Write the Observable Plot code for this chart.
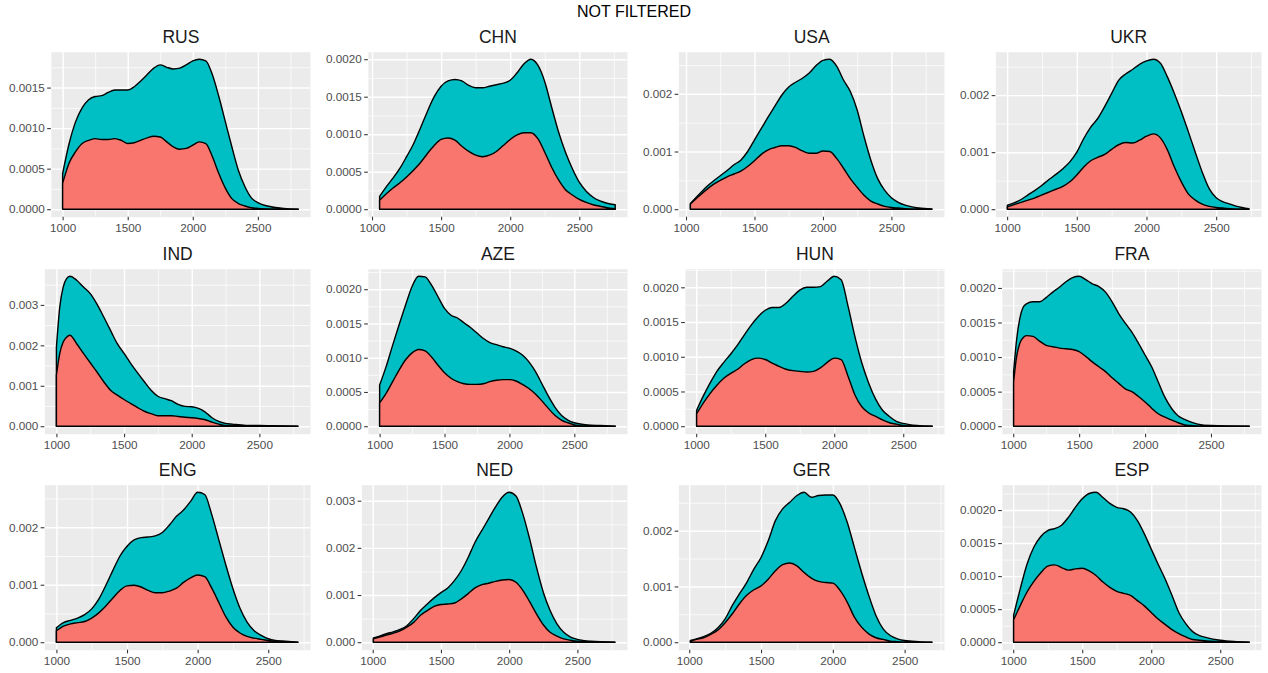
<!DOCTYPE html>
<html>
<head>
<meta charset="utf-8">
<script src="https://cdn.jsdelivr.net/npm/d3@7"></script>
<script src="https://cdn.jsdelivr.net/npm/@observablehq/plot@0.6"></script>
<style>
  html, body { margin: 0; padding: 0; background: #ffffff; }
  #wrap { position: relative; width: 1268px; height: 673px; overflow: hidden; background: #ffffff; }
  #wrap svg { position: absolute; }
</style>
</head>
<body>
<div id="wrap"></div>
<script>
// ---------------- data ----------------
const mainTitle = "NOT FILTERED";
const countries = ["RUS","CHN","USA","UKR","IND","AZE","HUN","FRA","ENG","NED","GER","ESP"];
const yTickSteps = [0.0005,0.0005,0.001,0.001,0.001,0.0005,0.0005,0.0005,0.001,0.001,0.001,0.0005];
const xTicks = [1000,1500,2000,2500];
const seriesNames = ["bottom (red)", "top (teal)"];

// each row: [rating, red density, stacked total (red + teal)]
const RUS = [[1000,.00032,.00044],[1050,.00057,.00081],[1100,.00071,.00108],[1150,.00081,.00125],[1200,.00085,.00135],[1250,.00087,.00139],[1300,.00086,.0014],[1350,.00086,.00144],[1400,.00087,.00147],[1450,.00085,.00147],[1500,.00081,.00147],[1550,.00082,.00151],[1600,.00085,.00158],[1650,.00088,.00166],[1700,.0009,.00174],[1750,.00089,.00178],[1800,.00083,.00175],[1850,.00077,.00173],[1900,.00074,.00174],[1950,.00075,.00178],[2000,.00079,.00183],[2050,.00083,.00185],[2100,.00081,.00183],[2150,.00065,.00166],[2200,.00044,.00139],[2250,.00026,.00108],[2300,.00013,.00077],[2350,.00007,.00048],[2400,.00004,.00028],[2450,.00002,.00014],[2500,.00001,.00008],[2600,0,.00003],[2700,0,.00001],[2810,0,0]];
const CHN = [[1055,.00012,.00017],[1100,.0002,.00029],[1150,.00028,.00041],[1200,.00035,.00054],[1250,.00043,.0007],[1300,.00052,.00087],[1350,.00062,.00108],[1400,.00074,.0013],[1450,.00085,.0015],[1500,.00093,.00164],[1550,.00095,.00171],[1600,.00092,.00173],[1650,.00084,.00171],[1700,.00077,.00165],[1750,.00072,.00162],[1800,.0007,.00162],[1850,.00072,.00164],[1900,.00077,.00166],[1950,.00085,.00168],[2000,.00093,.00172],[2050,.00099,.00182],[2100,.00102,.00194],[2150,.00102,.002],[2200,.00094,.00192],[2250,.00076,.0017],[2300,.00056,.00136],[2350,.00039,.00103],[2400,.00026,.00076],[2450,.00019,.00054],[2500,.00013,.00036],[2550,.00009,.00024],[2600,.00006,.00016],[2650,.00004,.00011],[2700,.00002,.00008],[2760,.000005,.00006]];
const USA = [[1032,.00009,.0001],[1100,.00024,.00027],[1150,.00034,.00039],[1200,.00043,.00049],[1250,.0005,.00058],[1300,.00056,.00067],[1350,.00061,.00077],[1400,.00066,.00085],[1450,.00074,.001],[1500,.00084,.0012],[1550,.00095,.0014],[1600,.00103,.0016],[1650,.00107,.00179],[1700,.0011,.00198],[1750,.0011,.00212],[1800,.00107,.0022],[1850,.00101,.00227],[1900,.00097,.00236],[1950,.00097,.00249],[2000,.00101,.00258],[2050,.001,.0026],[2100,.00088,.00248],[2150,.00071,.00224],[2200,.00053,.00204],[2250,.00038,.00172],[2300,.00024,.00126],[2350,.00014,.00085],[2400,.00009,.00053],[2450,.00005,.00033],[2500,.00003,.0002],[2550,.00002,.00012],[2600,.00001,.00007],[2700,0,.00002],[2796,0,.000005]];
const UKR = [[1002,.00004,.00007],[1050,.00008,.00011],[1100,.00012,.00017],[1150,.00016,.00025],[1200,.0002,.00033],[1250,.00025,.00042],[1300,.0003,.00052],[1350,.00035,.00061],[1400,.0004,.00071],[1450,.00048,.00083],[1500,.0006,.001],[1550,.00074,.00124],[1600,.00085,.00144],[1650,.00091,.00159],[1700,.00096,.0018],[1750,.00105,.00203],[1800,.00113,.00226],[1850,.00117,.00237],[1900,.00116,.00245],[1950,.00121,.00254],[2000,.00128,.0026],[2050,.00132,.00263],[2100,.00125,.00256],[2150,.00104,.00232],[2200,.00074,.00203],[2250,.00048,.00171],[2300,.00027,.00136],[2350,.00016,.001],[2400,.00009,.00065],[2450,.00005,.00036],[2500,.00003,.0002],[2550,.00002,.00013],[2600,.00001,.00009],[2650,0,.00005],[2735,0,.00001]];
const IND = [[1000,.00126,.00195],[1025,.0018,.00295],[1050,.00208,.00344],[1075,.0022,.00365],[1100,.00225,.00371],[1150,.00204,.00361],[1200,.0018,.00344],[1250,.00157,.00328],[1300,.00134,.00302],[1350,.0011,.0027],[1400,.00089,.00237],[1450,.00077,.00204],[1500,.00066,.0018],[1550,.00056,.00155],[1600,.00046,.00132],[1650,.00037,.0011],[1700,.00031,.00089],[1750,.00026,.00074],[1800,.00026,.00068],[1850,.00026,.00063],[1900,.00024,.00054],[1950,.00022,.00049],[2000,.00021,.00048],[2050,.00019,.00044],[2100,.00016,.00035],[2150,.0001,.00021],[2200,.00005,.00012],[2250,.00002,.00007],[2300,.00002,.00005],[2400,.00001,.00002],[2500,0,.00002],[2600,0,.00001],[2785,0,0]];
const AZE = [[1000,.00034,.0006],[1050,.00048,.00087],[1100,.00065,.00118],[1150,.00082,.00148],[1200,.00097,.00177],[1250,.00107,.00204],[1300,.00112,.00219],[1350,.0011,.00218],[1400,.00101,.00206],[1450,.00089,.00189],[1500,.00078,.00172],[1550,.0007,.00162],[1600,.00065,.00158],[1650,.00062,.00151],[1700,.00061,.00144],[1750,.00061,.00136],[1800,.00062,.00128],[1850,.00065,.00122],[1900,.00067,.00119],[1950,.00068,.00116],[2000,.00068,.00114],[2050,.00066,.0011],[2100,.00061,.00104],[2150,.00055,.00094],[2200,.00047,.0008],[2250,.00037,.00062],[2300,.00026,.00044],[2350,.00016,.00028],[2400,.00009,.00016],[2450,.00005,.00009],[2500,.00002,.00005],[2600,0,.00002],[2700,0,.00001],[2815,0,0]];
const HUN = [[1003,.00018,.00023],[1050,.00033,.00043],[1100,.00047,.00062],[1150,.00059,.00079],[1200,.00069,.00092],[1250,.00076,.00104],[1300,.00082,.00117],[1350,.0009,.00132],[1400,.00096,.00146],[1450,.00098,.00158],[1500,.00096,.00167],[1550,.00091,.00171],[1600,.00086,.00171],[1650,.00082,.00177],[1700,.0008,.00187],[1750,.00079,.00196],[1800,.00078,.002],[1850,.00079,.002],[1900,.00084,.00201],[1950,.00092,.00209],[2000,.00098,.00216],[2050,.00096,.00211],[2100,.00072,.00173],[2150,.00045,.00129],[2200,.00028,.00091],[2250,.00019,.00062],[2300,.00014,.00039],[2350,.00009,.00023],[2400,.00005,.00014],[2450,.00003,.00007],[2500,.00001,.00004],[2600,0,.00001],[2710,0,0]];
const FRA = [[1003,.00064,.00079],[1025,.001,.00124],[1050,.0012,.00156],[1075,.00128,.00172],[1100,.00131,.00177],[1150,.0013,.0018],[1200,.00123,.0018],[1250,.00117,.00186],[1300,.00115,.00194],[1350,.00113,.00201],[1400,.00112,.00209],[1450,.00111,.00215],[1500,.00108,.00217],[1550,.00101,.00212],[1600,.00093,.00206],[1650,.00086,.00202],[1700,.00079,.00194],[1750,.0007,.0018],[1800,.00062,.00163],[1850,.00054,.00149],[1900,.0005,.00136],[1950,.00043,.0012],[2000,.00035,.00103],[2050,.00026,.00086],[2100,.00018,.00064],[2150,.00013,.00042],[2200,.00009,.00026],[2250,.00005,.00015],[2300,.00002,.0001],[2350,.00001,.00006],[2400,0,.00003],[2500,0,.00001],[2790,0,0]];
const ENG = [[1000,.0002,.00025],[1050,.00028,.00034],[1100,.00032,.00038],[1150,.00034,.00042],[1200,.00036,.00048],[1250,.00042,.00058],[1300,.00051,.00075],[1350,.00063,.00099],[1400,.00077,.00125],[1450,.0009,.0015],[1500,.00098,.00167],[1550,.00099,.00178],[1600,.00096,.00182],[1650,.0009,.00183],[1700,.00086,.00185],[1750,.00086,.00191],[1800,.00089,.00204],[1850,.00094,.00219],[1900,.00104,.0023],[1950,.00112,.00245],[2000,.00117,.00261],[2050,.00114,.00257],[2100,.00094,.00222],[2150,.00069,.00178],[2200,.00044,.00134],[2250,.00026,.00093],[2300,.00016,.00059],[2350,.0001,.00035],[2400,.00007,.0002],[2450,.00005,.00012],[2500,.00003,.00006],[2550,.00002,.00003],[2600,.00001,.00002],[2710,0,0]];
const NED = [[1005,.00007,.00009],[1050,.00011,.00013],[1100,.00015,.00018],[1150,.00019,.00022],[1200,.00024,.00027],[1250,.00032,.00035],[1300,.00042,.0005],[1350,.00057,.00067],[1400,.00067,.00081],[1450,.00076,.00094],[1500,.0008,.00105],[1550,.00081,.00115],[1600,.00083,.00131],[1650,.00092,.00152],[1700,.00103,.0018],[1750,.00115,.00212],[1800,.00122,.00237],[1850,.00125,.00262],[1900,.00129,.00287],[1950,.00132,.00308],[2000,.00133,.00318],[2050,.00127,.0031],[2100,.0011,.00272],[2150,.00086,.00219],[2200,.0006,.00159],[2250,.00037,.00106],[2300,.00021,.00067],[2350,.00013,.00039],[2400,.00007,.00021],[2450,.00004,.00011],[2500,.00002,.00006],[2600,.00001,.00002],[2775,0,0]];
const GER = [[1008,.00002,.00003],[1050,.00005,.00006],[1100,.00008,.0001],[1150,.00014,.00016],[1200,.00022,.00026],[1250,.00035,.00042],[1300,.00051,.00066],[1350,.00069,.00087],[1400,.00084,.00107],[1450,.00094,.00131],[1500,.00101,.00152],[1550,.00113,.00182],[1600,.00128,.00218],[1650,.00139,.00239],[1700,.00142,.00251],[1750,.00137,.00263],[1800,.00125,.00269],[1850,.00115,.0026],[1900,.00109,.00263],[1950,.00107,.00264],[2000,.00106,.00264],[2050,.00093,.00248],[2100,.00072,.00215],[2150,.00045,.0017],[2200,.00027,.00125],[2250,.00015,.00084],[2300,.00008,.00048],[2350,.00005,.00024],[2400,.00002,.00012],[2450,.00001,.00006],[2500,0,.00003],[2600,0,.00001],[2690,0,0]];
const ESP = [[1003,.00034,.00041],[1050,.00055,.0008],[1100,.00076,.00118],[1150,.00092,.00144],[1200,.00105,.0016],[1250,.00115,.00169],[1300,.00117,.00172],[1350,.00113,.00177],[1400,.00109,.00189],[1450,.00111,.00204],[1500,.00112,.00217],[1550,.00108,.00225],[1600,.00101,.00227],[1650,.00091,.00219],[1700,.00083,.0021],[1750,.00077,.00204],[1800,.00074,.00202],[1850,.00071,.00197],[1900,.00063,.00184],[1950,.00055,.00164],[2000,.00045,.00141],[2050,.00035,.00118],[2100,.00027,.00096],[2150,.00019,.00071],[2200,.00013,.00045],[2250,.00008,.00028],[2300,.00004,.00016],[2350,.00003,.0001],[2400,.00002,.00007],[2500,.00001,.00003],[2600,0,.00001],[2710,0,0]];
const seriesByCountry = [RUS, CHN, USA, UKR, IND, AZE, HUN, FRA, ENG, NED, GER, ESP];

// ---------------- layout & style ----------------
const FONT = '"Liberation Sans", Arial, Helvetica, sans-serif';
const W = 1268, cellW = W / 4, rowH = 216.67;
const panelTop = 51.7, panelH = 165, cellH = 240;
const RED = "#F8766D", TEAL = "#00BFC4", PANEL = "#EBEBEB";
const axisFont = 11.73, tickLen = 3.67, tickGap = 2.93;

const wrap = document.getElementById("wrap");

// main title
const ns = "http://www.w3.org/2000/svg";
const tsvg = document.createElementNS(ns, "svg");
tsvg.setAttribute("width", W); tsvg.setAttribute("height", 30);
tsvg.style.left = "0px"; tsvg.style.top = "0px";
const tt = document.createElementNS(ns, "text");
tt.setAttribute("x", W / 2); tt.setAttribute("y", 17.3);
tt.setAttribute("text-anchor", "middle");
tt.setAttribute("font-family", FONT);
tt.setAttribute("font-size", "16px");
tt.setAttribute("fill", "#000");
tt.textContent = mainTitle;
tsvg.appendChild(tt);
wrap.appendChild(tsvg);

const ctx = document.createElement("canvas").getContext("2d");
ctx.font = `${axisFont}px ${FONT}`;

countries.forEach((name, i) => {
  const col = i % 4, row = Math.floor(i / 4);
  const rows = seriesByCountry[i].map(([x, red, top]) => ({x, red, top}));
  const [xa, xb] = d3.extent(rows, d => d.x);
  const xpad = (xb - xa) * 0.05;
  const xDomain = [xa - xpad, xb + xpad];
  const ym = d3.max(rows, d => d.top);
  const yDomain = [-0.05 * ym, 1.05 * ym];
  const step = yTickSteps[i];
  const dec = step < 0.001 ? 4 : 3;
  const nMaj = Math.floor(yDomain[1] / step + 1e-9);
  const yMajor = d3.range(0, nMaj + 1).map(k => k * step);
  const yMinor = d3.range(0, nMaj + 1).map(k => k * step + step / 2).filter(v => v <= yDomain[1]);
  const inX = v => v >= xDomain[0] && v <= xDomain[1];
  const xStep = xTicks[1] - xTicks[0];
  const xMajor = xTicks.filter(inX);
  const xMinor = [xTicks[0] - xStep / 2, ...xTicks.map(t => t + xStep / 2)].filter(inX);
  const fmt = d => d.toFixed(dec);
  const labW = d3.max(yMajor, v => ctx.measureText(fmt(v)).width);
  const marginLeft = 8.4 + labW + tickLen + tickGap;

  const plot = Plot.plot({
    width: cellW,
    height: cellH,
    marginTop: panelTop,
    marginBottom: cellH - panelTop - panelH,
    marginLeft,
    marginRight: 7,
    x: {domain: xDomain, label: null},
    y: {domain: yDomain, label: null},
    style: {fontFamily: FONT, background: "none", overflow: "visible"},
    marks: [
      Plot.frame({fill: PANEL, stroke: "none"}),
      Plot.gridX({ticks: xMinor, stroke: "#ffffff", strokeOpacity: 1, strokeWidth: 0.71}),
      Plot.gridY({ticks: yMinor, stroke: "#ffffff", strokeOpacity: 1, strokeWidth: 0.71}),
      Plot.gridX({ticks: xMajor, stroke: "#ffffff", strokeOpacity: 1, strokeWidth: 1.42}),
      Plot.gridY({ticks: yMajor, stroke: "#ffffff", strokeOpacity: 1, strokeWidth: 1.42}),
      Plot.areaY(rows, {x: "x", y1: 0, y2: "top", fill: TEAL, stroke: "#000", strokeWidth: 1.4, curve: "monotone-x", title: () => seriesNames[1]}),
      Plot.areaY(rows, {x: "x", y1: 0, y2: "red", fill: RED, stroke: "#000", strokeWidth: 1.4, curve: "monotone-x", title: () => seriesNames[0]}),
      Plot.axisX({ticks: xMajor, tickSize: tickLen, tickFormat: () => "", color: "#333333", strokeWidth: 1.07, label: null}),
      Plot.axisX({ticks: xMajor, tickSize: 0, tickPadding: tickLen + tickGap, tickFormat: d => String(d), color: "#4D4D4D", fontSize: axisFont, label: null}),
      Plot.axisY({ticks: yMajor, tickSize: tickLen, tickFormat: () => "", color: "#333333", strokeWidth: 1.07, label: null}),
      Plot.axisY({ticks: yMajor, tickSize: 0, tickPadding: tickLen + tickGap, tickFormat: fmt, color: "#4D4D4D", fontSize: axisFont, label: null}),
      Plot.text([name], {text: d => d, frameAnchor: "top", dy: -9, lineAnchor: "bottom", fontSize: 17.5, fill: "#1A1A1A"})
    ]
  });
  plot.style.left = (col * cellW) + "px";
  plot.style.top = (row * rowH) + "px";
  wrap.appendChild(plot);
});
</script>
</body>
</html>
